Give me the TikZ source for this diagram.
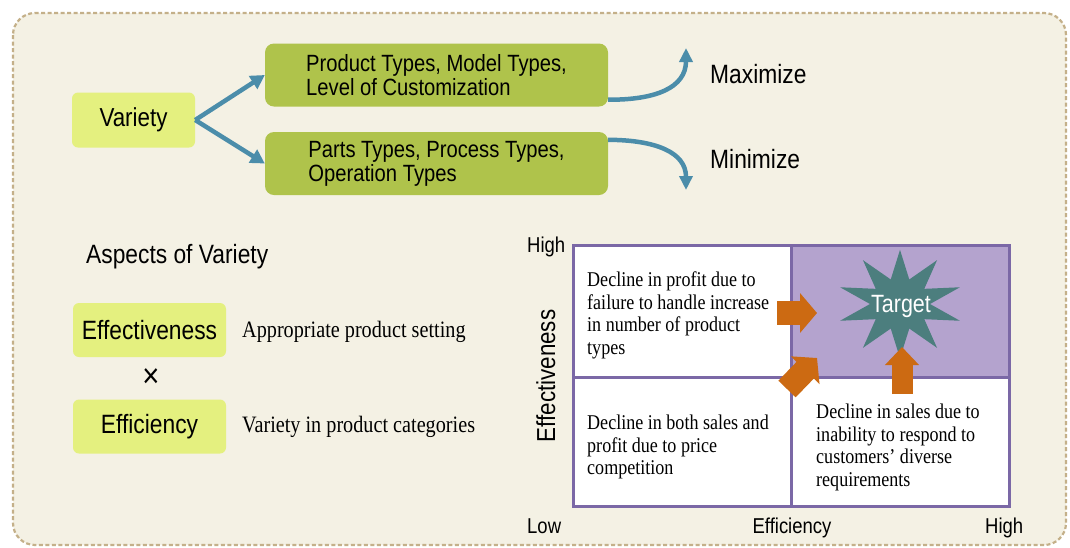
\documentclass[tikz,border=0pt]{standalone}
\usepackage{fontspec}
\setmainfont{Liberation Serif}[FakeStretch=0.86]
\setsansfont{Liberation Sans}[FakeStretch=0.86]
\usetikzlibrary{arrows.meta,shapes.geometric}
\definecolor{paper}{HTML}{F4F1E4}
\definecolor{framecol}{HTML}{C4B089}
\definecolor{leaf}{HTML}{AFC34B}
\definecolor{lime}{HTML}{E4F07F}
\definecolor{sky}{HTML}{4B8DAA}
\definecolor{plum}{HTML}{7B68A6}
\definecolor{lilac}{HTML}{B4A3CE}
\definecolor{teal}{HTML}{4C7E7E}
\definecolor{rust}{HTML}{CC6A12}

\begin{document}
\begin{tikzpicture}[x=1pt,y=-1pt,
    limebox/.style={fill=lime,rounded corners=6pt,minimum width=153pt,minimum height=54pt,
      font=\sffamily\fontsize{26.5}{28}\selectfont},
    leafbox/.style={fill=leaf,rounded corners=9pt,minimum width=343pt,minimum height=63pt,
      align=left,font=\sffamily\fontsize{23.5}{24}\selectfont},
    skyarrow/.style={draw=sky,line width=4.5pt,-{Triangle[length=14pt,width=15pt]}},
    rustarrow/.style={draw=rust,line width=24pt,-{Triangle[length=17pt,width=39pt]}},
    quad/.style={draw=plum,line width=2.5pt,fill=white,anchor=north west,minimum width=218pt},
    note/.style={font=\fontsize{23.5}{26}\selectfont,anchor=base west,inner sep=0pt},
    cell/.style={font=\fontsize{21}{22.5}\selectfont,align=left,anchor=north west,inner sep=0pt},
    axis/.style={font=\sffamily\fontsize{21.5}{23}\selectfont,inner sep=0pt},
    bigword/.style={font=\sffamily\fontsize{26.5}{28}\selectfont,anchor=base west,inner sep=0pt}]
  \useasboundingbox (0,0) rectangle (1070,547);
  \fill[white] (0,0) rectangle (1070,547);
  \draw[framecol,fill=paper,line width=2.2pt,dash pattern=on 4pt off 2.5pt,rounded corners=22pt]
    (13,13) rectangle (1066,545);

  \node[limebox,minimum width=123pt,minimum height=55pt,font=\sffamily\fontsize{26}{28}\selectfont]
    (variety) at (133.5,120) {Variety};
  \node[leafbox] (kinds) at (436.5,75) {Product Types, Model Types,\\Level of Customization};
  \node[leafbox] (parts) at (436.5,163.5) {Parts Types, Process Types,\\Operation Types};
  \draw[skyarrow] (variety.east) -- (kinds.west);
  \draw[skyarrow] (variety.east) -- (parts.west);

  \coordinate (maxtip) at (686,48);
  \coordinate (mintip) at (686,190);
  \draw[skyarrow,-{Triangle[length=14pt,width=13pt]}] ([yshift=7pt]kinds.south east)
    .. controls (655,100) and (686,88) .. (maxtip);
  \draw[skyarrow,-{Triangle[length=14pt,width=13pt]}] ([yshift=-8pt]parts.north east)
    .. controls (655,140) and (686,152) .. (mintip);
  \node[bigword] (max) at (710,83) {Maximize};
  \node[bigword] (min) at (710,168) {Minimize};

  \node[bigword] (aspects) at (86,263) {Aspects of Variety};
  \node[limebox] (effect) at (149.5,330) {Effectiveness};
  \node[font=\sffamily\fontsize{34}{36}\selectfont] (times) at (151,378) {×};
  \node[limebox] (effic) at (149.5,426.5) {Efficiency};
  \node[note] (setting) at (242,337) {Appropriate product setting};
  \node[note] (range) at (242,432) {Variety in product categories};

  \node[quad,minimum height=132pt] (tl) at (572,244) {};
  \node[quad,minimum height=132pt,fill=lilac] (tr) at (790,244) {};
  \node[quad,minimum height=129pt] (bl) at (572,376) {};
  \node[quad,minimum height=129pt] (br) at (790,376) {};

  \node[cell] (profit) at (587,272) {Decline in profit due to\\failure to handle increase\\in number of product\\types};
  \node[cell] (price) at (587,415) {Decline in both sales and\\profit due to price\\competition};
  \node[cell] (sales) at (816,404) {Decline in sales due to\\inability to respond to\\customers’ diverse\\requirements};

  \node[star,star points=10,star point ratio=2.1,fill=teal,minimum size=126pt,yscale=0.86,inner sep=0pt]
    (target) at (900,304) {};
  \node[text=white,font=\sffamily\fontsize{25}{27}\selectfont] (goal) at (901,306) {Target};

  \coordinate (r0) at (777,313);
  \coordinate (r1) at (817,313);
  \coordinate (d0) at (787,389);
  \coordinate (d1) at (817,358);
  \coordinate (u0) at (902,394);
  \coordinate (u1) at (902,347);
  \draw[rustarrow] (r0) -- (r1);
  \draw[rustarrow] (d0) -- (d1);
  \draw[rustarrow,line width=21pt,-{Triangle[length=18pt,width=33pt]}] (u0) -- (u1);

  \node[axis,anchor=base west] (hiy) at (527,252) {High};
  \node[axis,anchor=base west] (lo) at (527,533) {Low};
  \node[axis,anchor=base] (effx) at (792,533) {Efficiency};
  \node[axis,anchor=base west] (hix) at (985,533) {High};
  \node[axis,rotate=90,anchor=base,font=\sffamily\fontsize{26}{28}\selectfont] (effy) at (555,376) {Effectiveness};
\end{tikzpicture}
\end{document}
